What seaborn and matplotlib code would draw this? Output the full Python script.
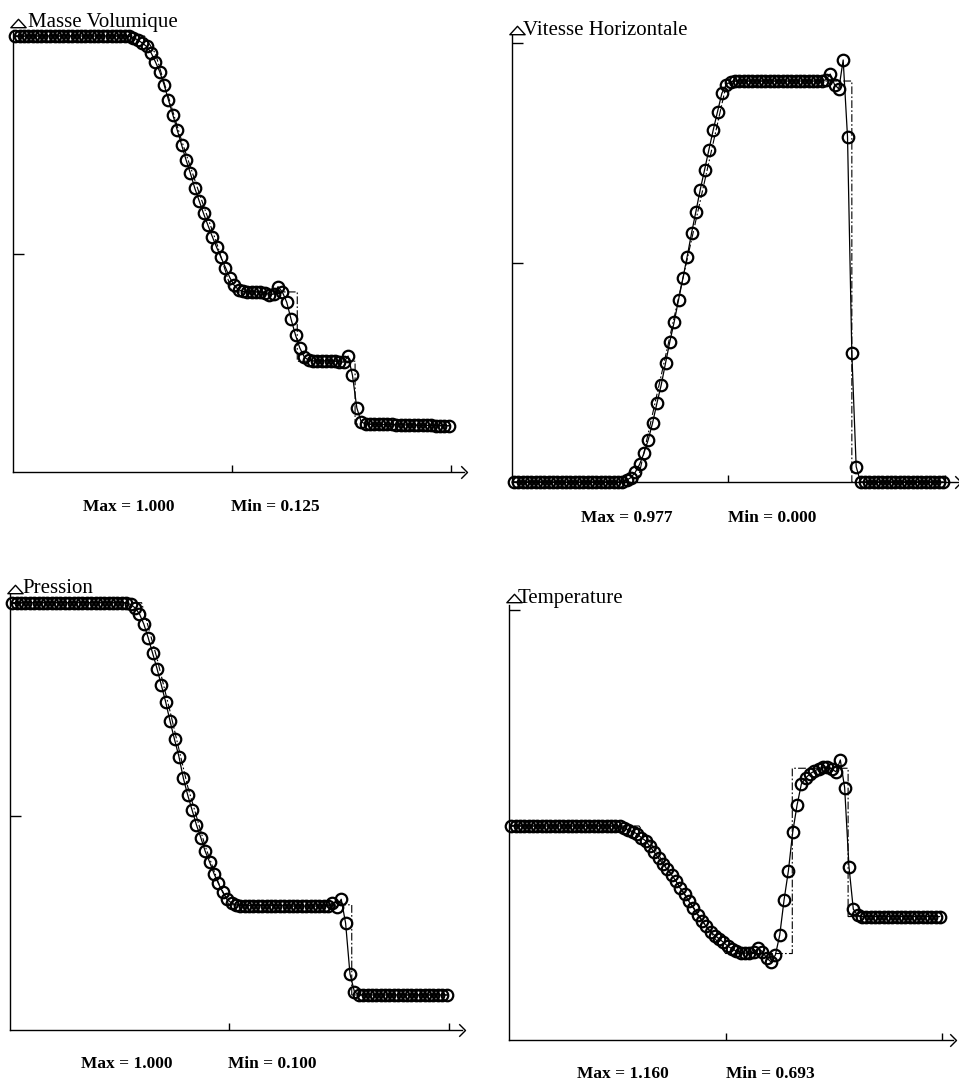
import numpy as np
import pandas as pd
import seaborn as sns
import matplotlib.pyplot as plt
from matplotlib.path import Path

sns.set_theme(style="white")
plt.rcParams['font.family'] = ['Liberation Serif', 'DejaVu Serif']

W, H = 959, 1085

# ---------------- data (100 cells) ----------------
x_cells = (np.arange(100) + 0.5) / 100

density = ([1.0] * 26 +
           [0.999, 0.996, 0.991, 0.984, 0.976, 0.962, 0.941, 0.918, 0.888, 0.853,
            0.819, 0.784, 0.750, 0.716, 0.685, 0.651, 0.622, 0.593, 0.566, 0.540,
            0.515, 0.492, 0.469, 0.446, 0.428, 0.418, 0.414] +
           [0.413] * 4 +
           [0.411, 0.407, 0.408, 0.425, 0.413, 0.389, 0.350, 0.314, 0.284, 0.264, 0.256] +
           [0.255] * 6 +
           [0.253, 0.252, 0.266, 0.222, 0.147, 0.115] +
           [0.110, 0.110, 0.110, 0.109, 0.109, 0.109, 0.109, 0.108, 0.108, 0.108,
            0.108, 0.108, 0.107, 0.107, 0.107, 0.107, 0.106, 0.106, 0.106, 0.106])

velocity = ([0.0] * 25 +
            [0.001, 0.004, 0.010, 0.022, 0.040, 0.065, 0.096, 0.134, 0.179, 0.221,
             0.271, 0.320, 0.365, 0.415, 0.464, 0.514, 0.567, 0.616, 0.666, 0.711,
             0.757, 0.802, 0.844, 0.886, 0.906, 0.912] +
            [0.914] * 21 +
            [0.917, 0.930, 0.906, 0.896, 0.962, 0.787, 0.293, 0.035] +
            [0.0] * 20)

pressure = ([1.0] * 26 +
            [0.999, 0.996, 0.988, 0.974, 0.950, 0.918, 0.882, 0.846, 0.807, 0.767,
             0.722, 0.680, 0.640, 0.590, 0.550, 0.515, 0.480, 0.450, 0.418, 0.393,
             0.366, 0.343, 0.322, 0.306, 0.297, 0.293] +
            [0.291] * 11 + [0.290] * 10 +
            [0.297, 0.287, 0.306, 0.250, 0.131, 0.090] +
            [0.082] * 21)

temperature = ([1.0] * 26 +
               [0.996, 0.991, 0.988, 0.983, 0.975, 0.968, 0.956, 0.943, 0.930, 0.918,
                0.906, 0.894, 0.881, 0.865, 0.852, 0.837, 0.823, 0.808, 0.795, 0.783,
                0.771, 0.763, 0.756, 0.748, 0.740, 0.734, 0.729, 0.726, 0.725, 0.725,
                0.727, 0.735, 0.728, 0.714, 0.706, 0.721, 0.764, 0.840, 0.903, 0.987,
                1.045, 1.091, 1.104, 1.113, 1.119, 1.124, 1.127, 1.128, 1.124, 1.117,
                1.143, 1.083, 0.912, 0.820, 0.807] +
               [0.804] * 19)

# exact solution (dash-dot)
ex_density_x = [0.0, 0.30, 0.325, 0.355, 0.385, 0.425, 0.465, 0.50, 0.649, 0.649, 0.781, 0.781, 1.0]
ex_density_y = [1.0, 1.0, 0.96, 0.86, 0.76, 0.64, 0.525, 0.413, 0.413, 0.254, 0.254, 0.110, 0.106]
ex_velocity_x = [0.0, 0.29, 0.497, 0.785, 0.785, 1.0]
ex_velocity_y = [0.0, 0.0, 0.914, 0.914, 0.0, 0.0]
ex_pressure_x = [0.0, 0.30, 0.335, 0.365, 0.405, 0.445, 0.475, 0.50, 0.779, 0.779, 1.0]
ex_pressure_y = [1.0, 1.0, 0.87, 0.745, 0.57, 0.43, 0.345, 0.293, 0.293, 0.082, 0.082]
ex_temp_x = [0.0, 0.30, 0.35, 0.40, 0.45, 0.50, 0.654, 0.654, 0.783, 0.783, 1.0]
ex_temp_y = [1.0, 1.0, 0.93, 0.86, 0.79, 0.724, 0.724, 1.125, 1.125, 0.804, 0.804]

titles = ["Masse Volumique", "Vitesse Horizontale", "Pression", "Temperature"]
max_labels = ["Max = 1.000", "Max = 0.977", "Max = 1.000", "Max = 1.160"]
min_labels = ["Min = 0.125", "Min = 0.000", "Min = 0.100", "Min = 0.693"]

panels = [
    dict(y=density, ex=(ex_density_x, ex_density_y), x0=13, sx=438,
         ya=0.0, ypa=472, yb=1.0, ypb=36, ylim=(0, 1.014), yt=[0.5, 1.0],
         xmax=1.03, arrow=1.036, tri=1.03, tpos=(28, 26.7),
         maxpos=(129, 511), minpos=(275, 511)),
    dict(y=velocity, ex=(ex_velocity_x, ex_velocity_y), x0=511.7, sx=433.3,
         ya=0.0, ypa=482, yb=1.0, ypb=43.3, ylim=(0, 1.02), yt=[0.5, 1.0],
         xmax=1.03, arrow=1.036, tri=1.03, tpos=(523, 35),
         maxpos=(627, 522), minpos=(772, 522)),
    dict(y=pressure, ex=(ex_pressure_x, ex_pressure_y), x0=10, sx=438.7,
         ya=0.0, ypa=1030, yb=1.0, ypb=602.7, ylim=(0, 1.02), yt=[0.5, 1.0],
         xmax=1.03, arrow=1.037, tri=1.032, tpos=(22, 593),
         maxpos=(127, 1068), minpos=(272, 1068)),
    dict(y=temperature, ex=(ex_temp_x, ex_temp_y), x0=509.3, sx=432.7,
         ya=1.0, ypa=826, yb=1.4675, ypb=610, ylim=(0.537, 1.478), yt=[1.002, 1.4675],
         xmax=1.025, arrow=1.033, tri=1.4935, tpos=(518, 603),
         maxpos=(623, 1078), minpos=(770, 1078)),
]

fig = plt.figure(figsize=(W / 100, H / 100), dpi=100)
fig.patch.set_facecolor('white')

chevron = Path([(-1, 1), (0, 0), (-1, -1)], [Path.MOVETO, Path.LINETO, Path.LINETO])
tri_path = Path([(-1, -0.55), (0, 0.55), (1, -0.55), (-1, -0.55)],
                [Path.MOVETO, Path.LINETO, Path.LINETO, Path.CLOSEPOLY])

for i, p in enumerate(panels):
    sy = (p['ypa'] - p['ypb']) / (p['yb'] - p['ya'])
    pix = lambda v: p['ypa'] - (v - p['ya']) * sy
    bot_px = pix(p['ylim'][0])
    top_px = pix(p['ylim'][1])
    left = p['x0'] / W
    width = p['xmax'] * p['sx'] / W
    ax = fig.add_axes([left, 1 - bot_px / H, width, (bot_px - top_px) / H])
    ax.set_facecolor('none')
    ax.set_xlim(0, p['xmax'])
    ax.set_ylim(*p['ylim'])

    ex_df = pd.DataFrame({'x': p['ex'][0], 'y': p['ex'][1]})
    sns.lineplot(data=ex_df, x='x', y='y', ax=ax, estimator=None, sort=False,
                 color='black', linewidth=0.8, linestyle=(0, (7, 2, 1.5, 2)),
                 clip_on=False)
    df = pd.DataFrame({'x': x_cells, 'y': p['y']})
    sns.lineplot(data=df, x='x', y='y', ax=ax, estimator=None, sort=False,
                 color='black', linewidth=0.9, marker='o', markersize=8.3,
                 markerfacecolor='none', markeredgecolor='black',
                 markeredgewidth=1.6, clip_on=False)

    for s in ['top', 'right']:
        ax.spines[s].set_visible(False)
    for s in ['left', 'bottom']:
        ax.spines[s].set_color('black')
        ax.spines[s].set_linewidth(1.0)
    ax.set_xticks([0.5, 1.0])
    ax.set_yticks(p['yt'])
    ax.tick_params(axis='x', direction='in', length=5, width=1, color='black',
                   labelbottom=False, bottom=True)
    ax.tick_params(axis='y', direction='in', length=8, width=1, color='black',
                   labelleft=False, left=True)
    ax.set_xlabel('')
    ax.set_ylabel('')
    ax.grid(False)

    # axis arrows
    ax.plot([p['arrow']], [p['ylim'][0]], marker=chevron, markersize=9,
            markerfacecolor='none', markeredgecolor='black', markeredgewidth=1.0,
            clip_on=False, linestyle='none')
    ax.plot([0.012], [p['tri']], marker=tri_path, markersize=11,
            markerfacecolor='white', markeredgecolor='black', markeredgewidth=1.0,
            clip_on=False, linestyle='none')

    fig.text(p['tpos'][0] / W, 1 - p['tpos'][1] / H, titles[i], fontsize=15,
             ha='left', va='baseline', color='black')
    fig.text(p['maxpos'][0] / W, 1 - p['maxpos'][1] / H, max_labels[i], fontsize=12.5,
             ha='center', va='baseline', color='black', fontweight='bold')
    fig.text(p['minpos'][0] / W, 1 - p['minpos'][1] / H, min_labels[i], fontsize=12.5,
             ha='center', va='baseline', color='black', fontweight='bold')

fig.savefig('out.png', dpi=100, facecolor='white')
